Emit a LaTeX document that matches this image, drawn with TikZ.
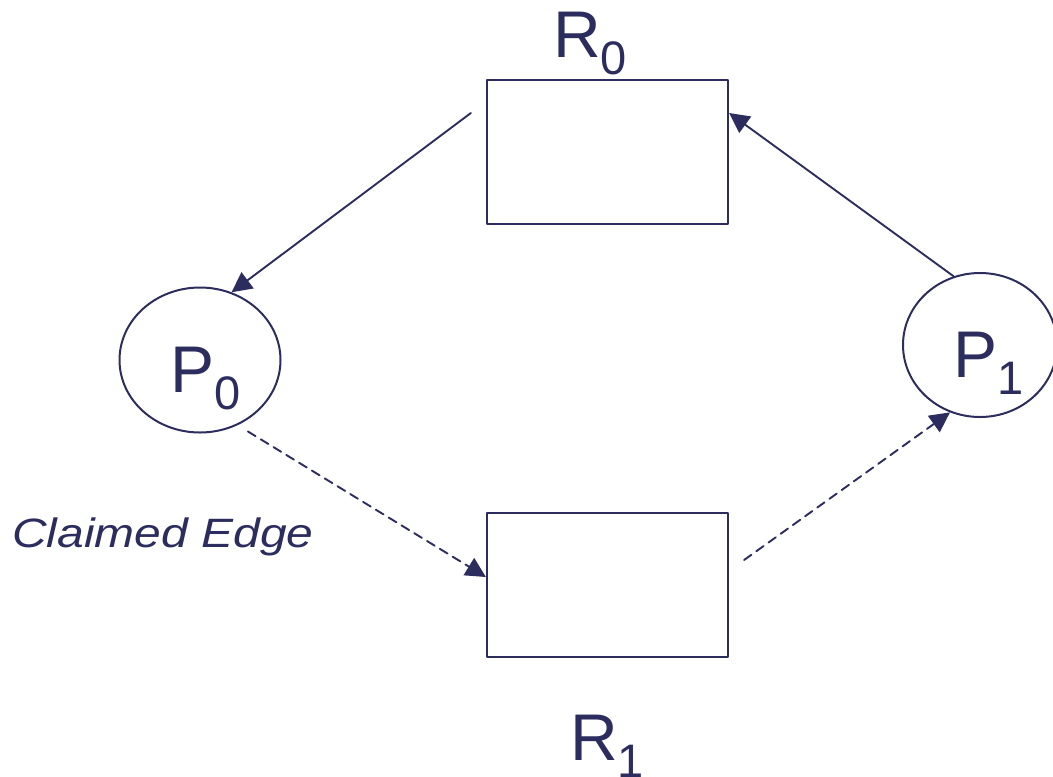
\documentclass[tikz,border=0pt]{standalone}
\usepackage{fontspec}
\setmainfont{Liberation Sans}
\usetikzlibrary{arrows.meta,shapes.geometric}

\definecolor{ink}{RGB}{44,45,94}

% lowered subscript digit
\newcommand{\lowsub}[1]{{\fontsize{47}{47}\selectfont\raisebox{-17pt}{#1}}}

\begin{document}
\begin{tikzpicture}[
    x=1pt, y=-1pt,
    line cap=round,
    line join=round,
    res/.style={draw=ink,line width=2.2pt,rectangle,inner sep=0pt,
                minimum width=241pt,minimum height=144pt},
    proc/.style={draw=ink,line width=2pt,ellipse,inner sep=0pt},
    lbl/.style={text=ink,inner sep=0pt,anchor=base west,
                font=\fontsize{66}{66}\selectfont},
    edge/.style={draw=ink,line width=1.9pt,-{Triangle[length=20pt,width=20pt]}},
    claim/.style={edge,dashed,dash pattern=on 9pt off 6pt}
]

\useasboundingbox (0,0) rectangle (1053,777);

% -------------------------------------------------
% Resources
% -------------------------------------------------
\node[res] (R0) at (607.5,152) {};
\node[res] (R1) at (607.5,585) {};

\node[lbl] (R0txt) at (553,57)  {R\lowsub{0}};
\node[lbl] (R1txt) at (570,760) {R\lowsub{1}};

% -------------------------------------------------
% Processes
% -------------------------------------------------
\node[proc,minimum width=161pt,minimum height=145pt] (P0) at (200,360) {};
\node[proc,minimum width=154pt,minimum height=144pt] (P1) at (980,345) {};

\node[lbl] (P0txt) at (170,392) {P\lowsub{0}};
\node[lbl] (P1txt) at (953,377) {P\lowsub{1}};

% -------------------------------------------------
% Edges
% -------------------------------------------------

% Assignment and request
\draw[edge] ([xshift=-15pt,yshift=39pt]R0.west) -- (P0.65);
\draw[edge] (P1.111) -- ([yshift=39pt]R0.east);

% Claim edges
\draw[claim,shorten <=12pt] (P0.-60) -- ([yshift=8pt]R1.west);
\draw[claim] ([xshift=15pt,yshift=25pt]R1.east) -- (P1.246);

\node[text=ink,inner sep=0pt,anchor=base west,
      font=\fontsize{41}{41}\selectfont\itshape] (claimtxt) at (12,547)
      {\scalebox{1.17}[1]{Claimed Edge}};

\end{tikzpicture}
\end{document}
